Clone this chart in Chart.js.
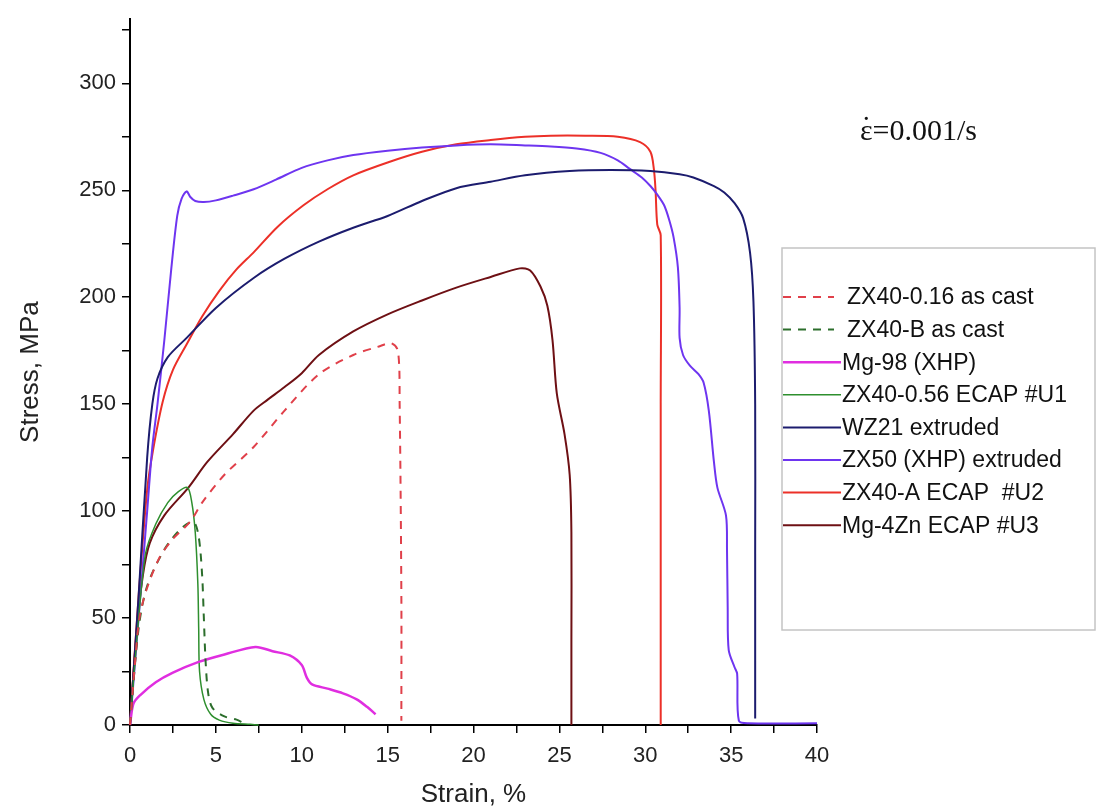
<!DOCTYPE html>
<html>
<head>
<meta charset="utf-8">
<script src="https://cdn.jsdelivr.net/npm/chart.js@4.4.1/dist/chart.umd.min.js"></script>
<style>
  html,body{margin:0;padding:0;background:#fff;}
  canvas{display:block;}
</style>
</head>
<body>
<canvas id="c" width="1098" height="812"></canvas>
<script>
// series: strain (%) and stress (MPa)
const strainZX40_016 = [0,0.3,0.55,0.95,1.7,2.5,3.5,4.2,5.5,7.2,9,11,13,14.5,15.2,15.6,15.7,15.8,15.8];
const stressZX40_016 = [0,30,50,63,78,87,95,104,117,130,147,164,173,177,178.5,175,150,60,2];

const strainZX40_B = [0,0.5,1,2,3,3.7,4.0,4.2,4.3,4.4,4.55,4.8,5.5,6.2,6.6];
const stressZX40_B = [0,45,65,82,92,95,88,70,50,30,15,8,4,2.5,1];

const strainMg98 = [0,0.2,0.6,1.5,2.5,4,5.5,7.3,8.3,9.3,10,10.3,10.6,11.5,12.4,13.2,13.8,14.3];
const stressMg98 = [0,10,14,20,24.5,29.5,33,36.5,34.5,32.5,28,22,19,17,14.8,12,8.5,5];

const strainZX40_056 = [0,0.4,0.9,1.5,2.2,2.8,3.35,3.6,3.8,3.95,4.0,4.05,4.3,4.7,5.2,6,7,7.5];
const stressZX40_056 = [0,40,80,94,104,109,111,104,90,66,45,25,12,5,2.3,0.8,0.3,0];

const strainWZ21 = [0,0.5,1.0,1.3,1.6,2.2,3.3,5,7.2,9,11,13,15,17,19,21,23,25.6,28,30.3,32,32.8,34,34.6,35.2,35.7,36.1,36.3,36.4,36.4,36.4];
const stressWZ21 = [0,60,125,150,162,172,181,195,209,218,226,232.5,238,245,251,254,257,259,259.5,259,257.5,256,252,249,244,237,221,198,150,80,3];

const strainZX50 = [0,0.5,1.0,1.3,1.6,2.0,2.4,2.75,3.0,3.3,3.5,3.8,4.3,5,6,7.2,8.5,10,11.5,13,15,17,19,21,23,24.5,26,27.4,28.4,29.1,29.8,30.3,30.7,31.1,31.4,31.65,31.9,32.0,32.0,32.2,32.6,33.1,33.4,33.7,34.0,34.2,34.7,34.76,34.8,34.86,35.2,35.35,35.45,36,40];
const stressZX50 = [0,50,100,130,150,180,213,238,246,249.5,247,245,244.5,245.3,247.5,250.5,255,260.5,264,266.5,268.5,270,271,271.5,271,270.5,269.5,267.5,264,260,256,252,248,243,236,228,214,195,181,173,168,164,160,147,123,111,98,82,55,35,27,24,2,0.8,0.8];

const strainZX40_A = [0,0.5,1,1.33,1.9,2.5,3.3,4.2,5.2,6.2,7.2,8.6,10.1,11.5,13,15,17,19,21,23,24.5,26.5,28.4,29.7,30.3,30.5,30.6,30.7,30.9,30.9,30.9,30.9];
const stressZX40_A = [0,60,110,128,151,166,178,191,203,213,221,233,243,250.5,257,263,268,271.5,273.5,275,275.5,275.5,275,272.5,268,260,250,234,229,150,50,0];

const strainMg4Zn = [0,0.4,0.75,1.15,2,3.4,4.5,6,7.2,8,9,10,11,13,15,17,19,21,22.7,23.3,23.9,24.3,24.6,24.85,25.3,25.6,25.7,25.7,25.7];
const stressMg4Zn = [0,45,70,85,98,111,123,136,147,152,158,164.5,173,184,192,198.5,204.5,209.5,213.5,212.5,205,196,180,155,136,117,90,40,0];

const seriesNames = ["ZX40-0.16 as cast","ZX40-B as cast","Mg-98 (XHP)","ZX40-0.56 ECAP #U1","WZ21 extruded","ZX50 (XHP) extruded","ZX40-A ECAP  #U2","Mg-4Zn ECAP #U3"];
const seriesX = [strainZX40_016,strainZX40_B,strainMg98,strainZX40_056,strainWZ21,strainZX50,strainZX40_A,strainMg4Zn];
const seriesY = [stressZX40_016,stressZX40_B,stressMg98,stressZX40_056,stressWZ21,stressZX50,stressZX40_A,stressMg4Zn];
const colors  = ["#e0404a","#2c6e2c","#e02ee0","#2e8f2e","#1c1c6e","#6e35f0","#ec3028","#6e1014"];
const widths  = [2,2,2.5,1.5,2,2,2,2];
const dashes  = [[8,7],[8,7],[],[],[],[],[],[]];

const xTicks = [0,2.5,5,7.5,10,12.5,15,17.5,20,22.5,25,27.5,30,32.5,35,37.5,40];
const yTicks = [0,25,50,75,100,125,150,175,200,225,250,275,300,325];

const FONT = "'Liberation Sans', Arial, sans-serif";

const datasets = seriesNames.map((name,i)=>({
  label:name,
  data: seriesX[i].map((x,k)=>({x, y: seriesY[i][k]})),
  showLine:true, pointRadius:0, borderColor:colors[i], backgroundColor:colors[i],
  borderWidth:widths[i], borderDash:dashes[i], tension:0.3, clip:false
}));

// legend box + strain-rate note, drawn on the canvas
const extras = {
  id:"extras",
  afterDraw(chart){
    const ctx = chart.ctx;
    ctx.save();
    ctx.fillStyle="#fff";
    ctx.fillRect(782,248,313,382);
    ctx.strokeStyle="#c4c4c4";
    ctx.lineWidth=1.5;
    ctx.strokeRect(782,248,313,382);
    chart.data.datasets.forEach((ds,i)=>{
      const y = 297 + i*32.6;
      ctx.beginPath();
      ctx.strokeStyle=ds.borderColor;
      ctx.lineWidth=ds.borderWidth;
      ctx.setLineDash(ds.borderDash);
      const x2 = ds.borderDash.length ? 834 : 841;
      ctx.moveTo(783,y); ctx.lineTo(x2,y);
      ctx.stroke();
      ctx.setLineDash([]);
      ctx.fillStyle="#111";
      ctx.font="23px "+FONT;
      ctx.textBaseline="middle";
      ctx.textAlign="left";
      ctx.fillText(ds.label, ds.borderDash.length ? 847 : 842, y+1);
    });
    // strain rate
    ctx.font="30px 'Liberation Serif', 'Times New Roman', serif";
    ctx.textBaseline="alphabetic";
    ctx.fillStyle="#111";
    ctx.fillText("\u03B5",860,140);
    const ew = ctx.measureText("\u03B5").width;
    ctx.textAlign="center";
    ctx.fillText("\u02D9",860+ew/2,137);
    ctx.textAlign="left";
    ctx.fillText("=0.001/s",860+ew,140);
    ctx.restore();
  }
};

new Chart(document.getElementById("c"),{
  type:"scatter",
  data:{datasets},
  options:{
    responsive:false, animation:false,
    layout:{padding:{top:17,right:281,left:0,bottom:0}},
    plugins:{legend:{display:false}, tooltip:{enabled:false}},
    scales:{
      x:{
        type:"linear", min:0, max:40,
        afterBuildTicks:s=>{ s.ticks = xTicks.map(v=>({value:v})); },
        afterFit:s=>{ s.height = 87; },
        ticks:{autoSkip:false, maxRotation:0, padding:10, color:"#222", font:{family:FONT,size:22},
          callback:v=> v%5===0 ? v : ""},
        grid:{drawOnChartArea:false, drawTicks:true, tickLength:8, color:"#000", lineWidth:1.5},
        border:{color:"#000", width:2},
        title:{display:true, text:"Strain, %", color:"#222", font:{family:FONT,size:26}, padding:{top:0,bottom:2}}
      },
      y:{
        type:"linear", min:0, max:330,
        afterBuildTicks:s=>{ s.ticks = yTicks.map(v=>({value:v})); },
        afterFit:s=>{ s.width = 130; },
        ticks:{autoSkip:false, padding:6, color:"#222", font:{family:FONT,size:22},
          callback:v=> v%50===0 ? v : ""},
        grid:{drawOnChartArea:false, drawTicks:true, tickLength:8, color:"#000", lineWidth:1.5},
        border:{color:"#000", width:2},
        title:{display:true, text:"Stress, MPa", color:"#222", font:{family:FONT,size:26}, padding:{top:15,bottom:0}}
      }
    }
  },
  plugins:[extras]
});
</script>
</body>
</html>
